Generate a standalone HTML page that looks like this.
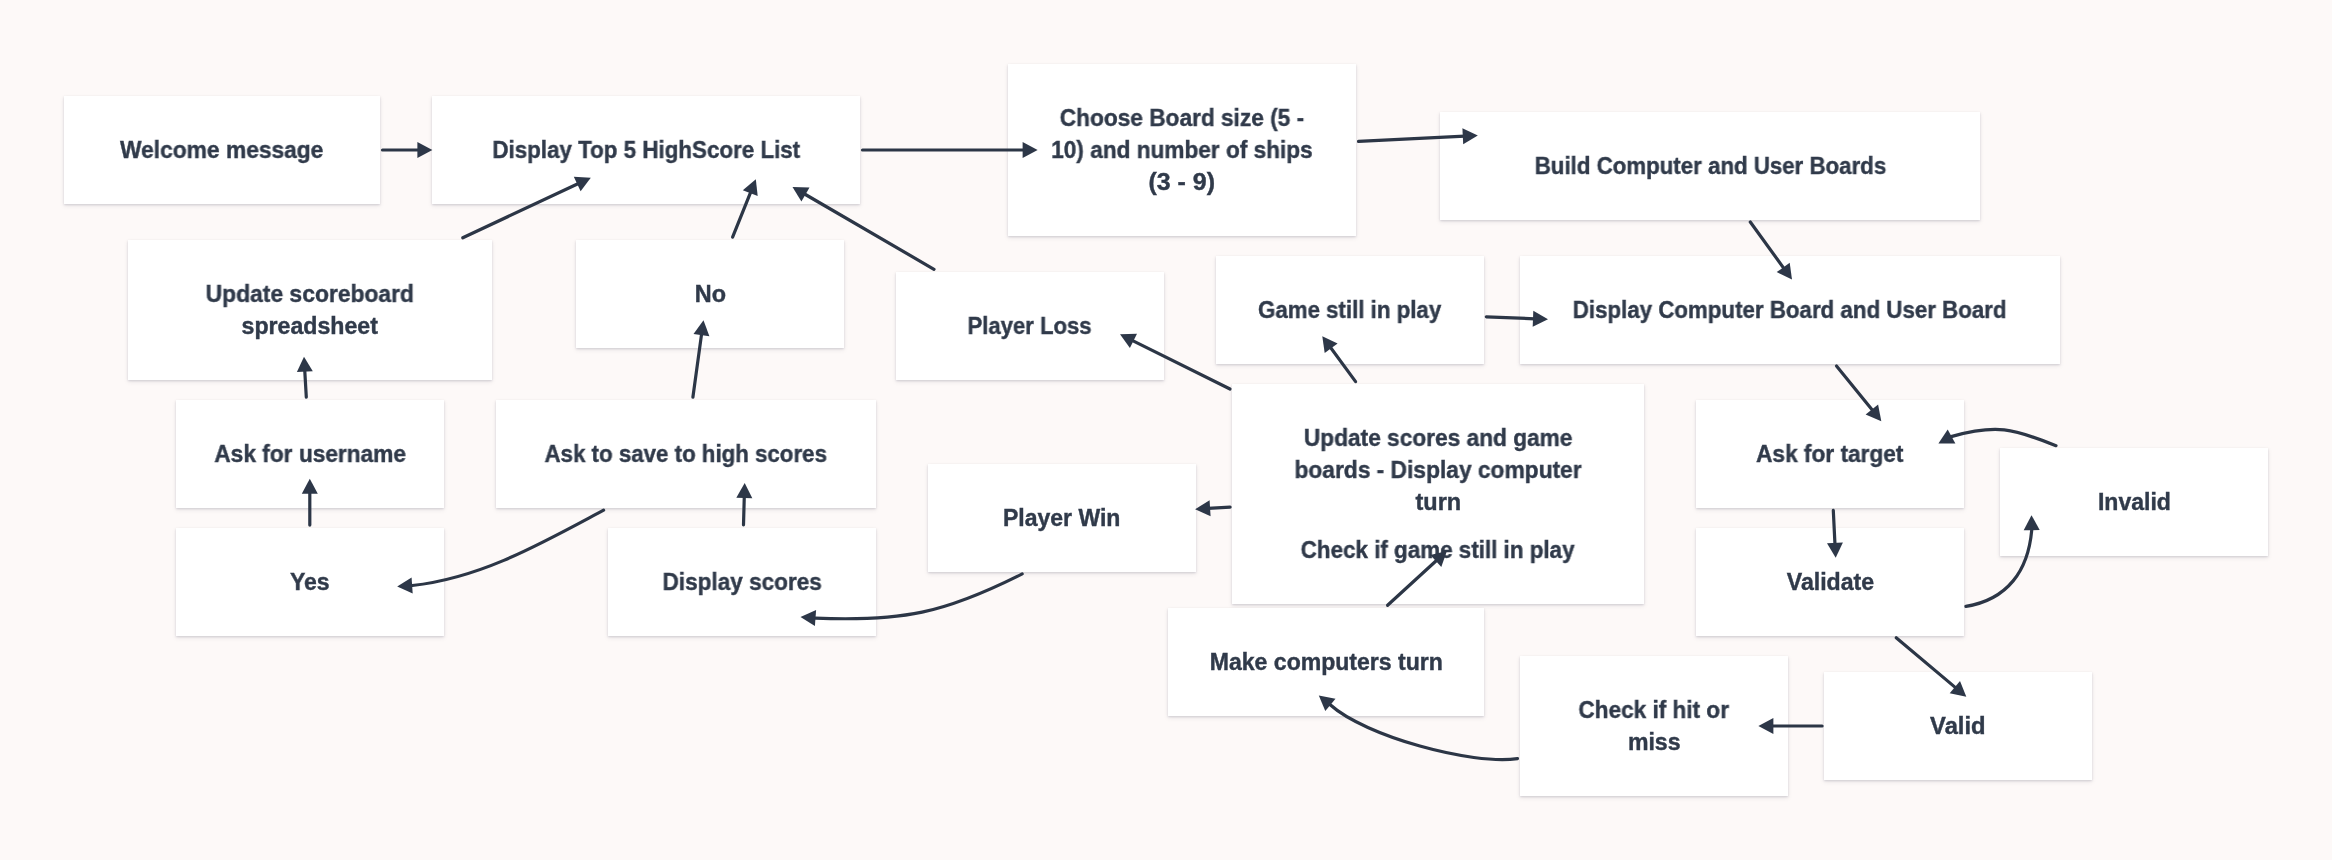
<!DOCTYPE html><html><head><meta charset="utf-8"><style>
html,body{margin:0;padding:0;}
body{width:2332px;height:860px;background:#fdf9f8;position:relative;overflow:hidden;font-family:"Liberation Sans",sans-serif;}
.b{position:absolute;background:#fff;box-shadow:0 1px 2px rgba(40,40,70,0.16),0 2px 5px rgba(40,40,70,0.08);display:flex;flex-direction:column;align-items:center;justify-content:center;text-align:center;color:#303a4a;-webkit-text-stroke:0.4px #303a4a;font-weight:bold;font-size:23px;line-height:32px;}
.b p{margin:0;white-space:nowrap;display:flex;flex-direction:column;align-items:center;}
.b span{display:block;will-change:transform;}
.b p+p{margin-top:16px;}
svg{position:absolute;left:0;top:0;}
svg path{stroke:#2c3646;stroke-width:3.2;stroke-linecap:round;fill:none;}
svg polygon{fill:#2d3748;}
</style></head><body>
<div class="b" style="left:64px;top:96px;width:316px;height:108px"><p><span style="transform:scaleX(0.9902)">Welcome message</span></p></div>
<div class="b" style="left:432px;top:96px;width:428px;height:108px"><p><span style="transform:scaleX(0.9724)">Display Top 5 HighScore List</span></p></div>
<div class="b" style="left:1008px;top:64px;width:348px;height:172px"><p><span style="transform:scaleX(0.9858)">Choose Board size (5 -</span><span style="transform:scaleX(0.9837)">10) and number of ships</span><span style="transform:scaleX(1.0847)">(3 - 9)</span></p></div>
<div class="b" style="left:1440px;top:112px;width:540px;height:108px"><p><span style="transform:scaleX(0.9684)">Build Computer and User Boards</span></p></div>
<div class="b" style="left:128px;top:240px;width:364px;height:140px"><p><span style="transform:scaleX(0.9942)">Update scoreboard</span><span style="transform:scaleX(1.0060)">spreadsheet</span></p></div>
<div class="b" style="left:576px;top:240px;width:268px;height:108px"><p><span style="transform:scaleX(1.0179)">No</span></p></div>
<div class="b" style="left:896px;top:272px;width:268px;height:108px"><p><span style="transform:scaleX(0.9606)">Player Loss</span></p></div>
<div class="b" style="left:1216px;top:256px;width:268px;height:108px"><p><span style="transform:scaleX(0.9684)">Game still in play</span></p></div>
<div class="b" style="left:1520px;top:256px;width:540px;height:108px"><p><span style="transform:scaleX(0.9698)">Display Computer Board and User Board</span></p></div>
<div class="b" style="left:176px;top:400px;width:268px;height:108px"><p><span style="transform:scaleX(0.9865)">Ask for username</span></p></div>
<div class="b" style="left:496px;top:400px;width:380px;height:108px"><p><span style="transform:scaleX(0.9690)">Ask to save to high scores</span></p></div>
<div class="b" style="left:1232px;top:384px;width:412px;height:220px"><p><span style="transform:scaleX(0.9863)">Update scores and game</span><span style="transform:scaleX(0.9896)">boards - Display computer</span><span style="transform:scaleX(1.0209)">turn</span></p><p><span style="transform:scaleX(0.9738)">Check if game still in play</span></p></div>
<div class="b" style="left:1696px;top:400px;width:268px;height:108px"><p><span style="transform:scaleX(0.9858)">Ask for target</span></p></div>
<div class="b" style="left:2000px;top:448px;width:268px;height:108px"><p><span style="transform:scaleX(1.0014)">Invalid</span></p></div>
<div class="b" style="left:928px;top:464px;width:268px;height:108px"><p><span style="transform:scaleX(1.0000)">Player Win</span></p></div>
<div class="b" style="left:176px;top:528px;width:268px;height:108px"><p><span style="transform:scaleX(0.9974)">Yes</span></p></div>
<div class="b" style="left:608px;top:528px;width:268px;height:108px"><p><span style="transform:scaleX(0.9812)">Display scores</span></p></div>
<div class="b" style="left:1696px;top:528px;width:268px;height:108px"><p><span style="transform:scaleX(1.0058)">Validate</span></p></div>
<div class="b" style="left:1168px;top:608px;width:316px;height:108px"><p><span style="transform:scaleX(1.0022)">Make computers turn</span></p></div>
<div class="b" style="left:1520px;top:656px;width:268px;height:140px"><p><span style="transform:scaleX(0.9816)">Check if hit or</span><span style="transform:scaleX(1.0040)">miss</span></p></div>
<div class="b" style="left:1824px;top:672px;width:268px;height:108px"><p><span style="transform:scaleX(1.0333)">Valid</span></p></div>
<svg width="2332" height="860" viewBox="0 0 2332 860">
<path d="M382.5,150 L419.4,150.0"/>
<polygon points="432.4,150.0 417.4,158.0 417.4,142.0"/>
<path d="M862.5,150 L1024.6,150.0"/>
<polygon points="1037.6,150.0 1022.6,158.0 1022.6,142.0"/>
<path d="M1358.5,141.3 L1464.8,136.1"/>
<polygon points="1477.8,135.5 1463.2,144.2 1462.4,128.2"/>
<path d="M462.8,237.8 L579.0,183.2"/>
<polygon points="590.8,177.7 580.6,191.3 573.8,176.8"/>
<path d="M732.6,237.2 L751.0,191.3"/>
<polygon points="755.8,179.2 757.7,196.1 742.8,190.2"/>
<path d="M934.0,269.3 L803.7,193.5"/>
<polygon points="792.5,187.0 809.5,187.6 801.4,201.5"/>
<path d="M1750.3,222.0 L1784.4,269.1"/>
<polygon points="1792.0,279.6 1776.7,272.1 1789.7,262.8"/>
<path d="M1486.3,316.8 L1535.0,318.8"/>
<polygon points="1548.0,319.3 1532.7,326.7 1533.3,310.7"/>
<path d="M1836.5,366.0 L1873.1,411.1"/>
<polygon points="1881.3,421.2 1865.6,414.6 1878.1,404.5"/>
<path d="M1230.0,389.0 L1131.6,340.1"/>
<polygon points="1120.0,334.3 1137.0,333.8 1129.9,348.1"/>
<path d="M1355.6,381.6 L1330.0,346.8"/>
<polygon points="1322.3,336.3 1337.6,343.6 1324.7,353.1"/>
<path d="M306.3,397.2 L304.7,369.7"/>
<polygon points="304.0,356.7 312.8,371.2 296.9,372.1"/>
<path d="M692.9,397.2 L701.7,333.1"/>
<polygon points="703.5,320.2 709.4,336.2 693.5,334.0"/>
<path d="M309.8,525.1 L309.8,491.8"/>
<polygon points="309.8,478.8 317.8,493.8 301.8,493.8"/>
<path d="M743.5,524.8 L744.3,496.0"/>
<polygon points="744.7,483.0 752.3,498.2 736.3,497.8"/>
<path d="M1230.1,507.1 L1208.1,508.4"/>
<polygon points="1195.1,509.2 1209.6,500.3 1210.6,516.3"/>
<path d="M1387.6,605.3 L1437.3,559.7"/>
<polygon points="1446.9,550.9 1441.3,566.9 1430.4,555.1"/>
<path d="M1833.3,510.3 L1835.0,544.8"/>
<polygon points="1835.7,557.8 1827.0,543.2 1842.9,542.4"/>
<path d="M1896.2,637.8 L1956.4,688.4"/>
<polygon points="1966.3,696.8 1949.7,693.3 1960.0,681.0"/>
<path d="M1822.1,726.0 L1771.4,726.0"/>
<polygon points="1758.4,726.0 1773.4,718.0 1773.4,734.0"/>
<path d="M603.6,510.2 C543.1,542.5 481.8,578.0 412.3,585.5"/>
<polygon points="397.2,586.6 411.6,577.5 412.7,593.5"/>
<path d="M1022.2,573.9 C944.0,613.4 902.5,621.7 815.2,618.1"/>
<polygon points="800.5,617.0 816.1,610.1 814.9,626.1"/>
<path d="M1517.5,758.6 C1471.6,765.3 1365.4,736.4 1330.2,704.8"/>
<polygon points="1318.8,695.4 1335.5,698.8 1325.3,711.1"/>
<path d="M2056.0,445.7 C2013.0,428.4 1996.1,424.0 1951.1,436.6"/>
<polygon points="1938.4,443.6 1947.7,429.4 1955.4,443.4"/>
<path d="M1965.9,606.4 C2007.7,599.5 2028.1,570.6 2031.7,530.3"/>
<polygon points="2031.5,515.2 2039.7,530.1 2023.7,530.3"/>
</svg>
</body></html>
